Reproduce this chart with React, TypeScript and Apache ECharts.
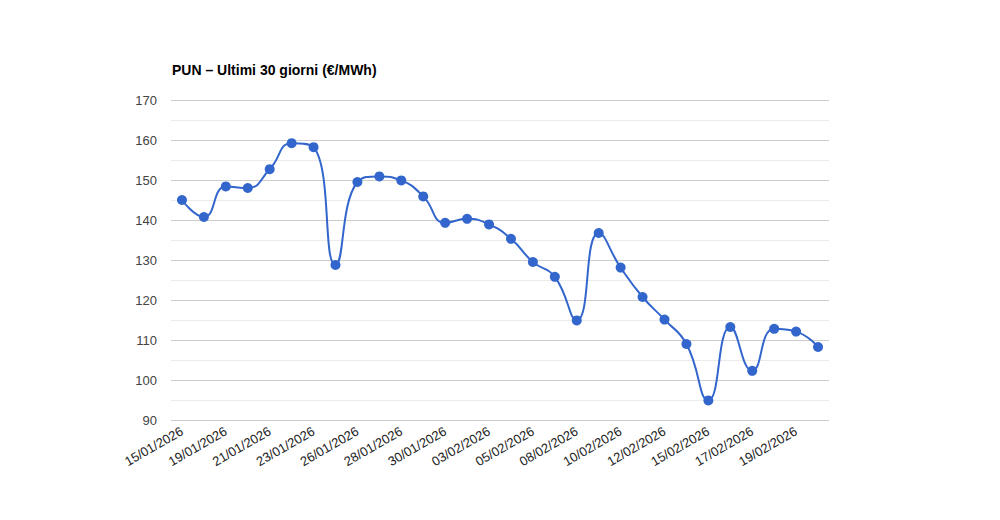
import React, { useEffect, useRef } from "react";
import * as echarts from "echarts";

const dates = [
  "15/01/2026", "16/01/2026", "19/01/2026", "20/01/2026", "21/01/2026", "22/01/2026",
  "23/01/2026", "24/01/2026", "26/01/2026", "27/01/2026", "28/01/2026", "29/01/2026",
  "30/01/2026", "02/02/2026", "03/02/2026", "04/02/2026", "05/02/2026", "06/02/2026",
  "08/02/2026", "09/02/2026", "10/02/2026", "11/02/2026", "12/02/2026", "13/02/2026",
  "15/02/2026", "16/02/2026", "17/02/2026", "18/02/2026", "19/02/2026", "20/02/2026",
];

const pun = [
  145.0, 140.75, 148.4, 148.0, 152.7, 159.2, 158.2, 128.75, 149.5, 150.9,
  149.9, 145.9, 139.3, 140.3, 138.9, 135.3, 129.5, 125.8, 114.9, 136.75,
  128.1, 120.75, 115.1, 109.0, 94.9, 113.25, 102.3, 112.8, 112.1, 108.25,
];

const yMin = 90;
const yMax = 170;
const yStep = 10;

export default function App() {
  const ref = useRef<HTMLDivElement>(null);
  useEffect(() => {
    if (!ref.current) return;
    const chart = echarts.init(ref.current, undefined, { renderer: "svg" });
    chart.setOption({
      animation: false,
      textStyle: { fontFamily: "Liberation Sans, Arial, sans-serif" },
      title: {
        text: "PUN – Ultimi 30 giorni (€/MWh)",
        left: 167,
        top: 58,
        textStyle: {
          fontSize: 14,
          fontWeight: "bold",
          color: "#000",
          fontFamily: "Liberation Sans, Arial, sans-serif",
        },
      },
      grid: { left: 171, right: 171, top: 100, bottom: 100 },
      xAxis: {
        type: "category",
        data: dates,
        boundaryGap: true,
        axisLine: { show: false },
        axisTick: { show: false },
        axisLabel: {
          interval: 1,
          rotate: 30,
          color: "#222",
          fontSize: 13,
          margin: 10,
          fontFamily: "Liberation Sans, Arial, sans-serif",
        },
      },
      yAxis: {
        type: "value",
        min: yMin,
        max: yMax,
        interval: yStep,
        axisLine: { show: false },
        axisTick: { show: false },
        axisLabel: {
          color: "#444",
          fontSize: 13,
          margin: 14,
          fontFamily: "Liberation Sans, Arial, sans-serif",
        },
        splitLine: { lineStyle: { color: "#cccccc", width: 1 } },
        minorTick: { show: false, splitNumber: 2 },
        minorSplitLine: { show: true, lineStyle: { color: "#ebebeb", width: 1 } },
      },
      series: [
        {
          type: "line",
          data: pun,
          smooth: 0.5,
          symbol: "circle",
          symbolSize: 10,
          itemStyle: { color: "#3366cc" },
          lineStyle: { color: "#3366cc", width: 2 },
        },
      ],
    });
    return () => chart.dispose();
  }, []);
  return <div ref={ref} style={{ width: 1000, height: 520, margin: -8 }} />;
}
